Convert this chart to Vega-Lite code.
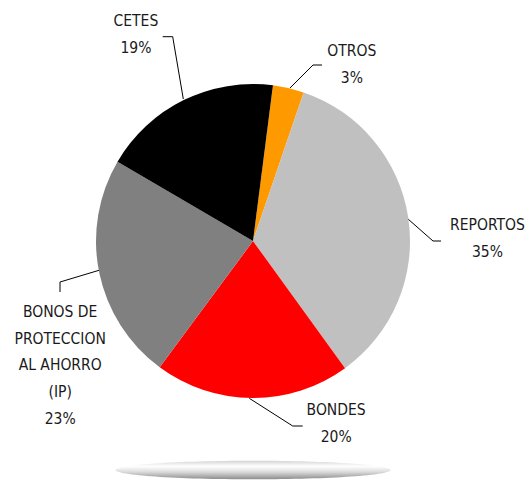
{
  "$schema": "https://vega.github.io/schema/vega-lite/v6.json",
  "width": 506,
  "height": 482,
  "autosize": "none",
  "padding": {"left": 0, "top": 0, "right": 25, "bottom": 0},
  "background": "white",
  "config": {"view": {"stroke": null}},
  "data": {
    "values": [
      {"category": "OTROS", "value": 3.2, "order": 1, "label": "OTROS\n3%"},
      {"category": "REPORTOS", "value": 34.8, "order": 2, "label": "REPORTOS\n35%"},
      {"category": "BONDES", "value": 20.1, "order": 3, "label": "BONDES\n20%"},
      {"category": "BONOS DE PROTECCION AL AHORRO (IP)", "value": 23.3, "order": 4, "label": "BONOS DE\nPROTECCION\nAL AHORRO\n(IP)\n23%"},
      {"category": "CETES", "value": 18.6, "order": 5, "label": "CETES\n19%"}
    ]
  },
  "layer": [
    {
      "data": {"values": [{"k": 1}]},
      "mark": {
        "type": "point",
        "shape": "M -137.5 229 A 137.5 9.3 0 1 0 137.5 229 A 137.5 9.3 0 1 0 -137.5 229 Z",
        "size": 4,
        "filled": true,
        "opacity": 1,
        "strokeWidth": 0,
        "fill": {
          "gradient": "linear",
          "x1": 0, "y1": 0, "x2": 0, "y2": 1,
          "stops": [
            {"offset": 0, "color": "#d4d4d4"},
            {"offset": 0.3, "color": "#ffffff"},
            {"offset": 0.6, "color": "#dcdcdc"},
            {"offset": 1, "color": "#8c8c8c"}
          ]
        }
      },
      "encoding": {}
    },
    {
      "data": {"values": [{"k": 1}]},
      "mark": {
        "type": "point",
        "shape": "M -69.7 -142 L -80.3 -204.3 L -90.3 -204.3 M 37 -153 L 60 -176 L 69 -176 M 155 -22 L 180 0 L 188 0 M -3.7 157.3 L 39.7 185 L 49.7 185 M -153 29 L -193 41 L -193 51",
        "size": 4,
        "filled": false,
        "opacity": 1,
        "stroke": "#000000",
        "strokeWidth": 1
      },
      "encoding": {}
    },
    {
      "encoding": {
        "theta": {"field": "value", "type": "quantitative", "stack": true, "scale": {"range": [0.12741, 6.4106]}},
        "order": {"field": "order", "type": "quantitative"},
        "detail": {"field": "category", "type": "nominal"}
      },
      "layer": [
        {
          "mark": {"type": "arc", "outerRadius": 157, "stroke": null},
          "encoding": {
            "color": {
              "field": "category",
              "type": "nominal",
              "scale": {
                "domain": ["OTROS", "REPORTOS", "BONDES", "BONOS DE PROTECCION AL AHORRO (IP)", "CETES"],
                "range": ["#FF9900", "#C0C0C0", "#FF0000", "#808080", "#000000"]
              },
              "legend": null
            }
          }
        },
        {
          "mark": {"type": "text", "font": "'Liberation Sans Narrow', 'DejaVu Sans Condensed', 'Liberation Sans', sans-serif", "fontSize": 15.5, "color": "#1a1a1a", "align": "center", "baseline": "alphabetic", "lineBreak": "\n", "lineHeight": 27, "radius": 245, "dx": -9, "dy": 5},
          "encoding": {"text": {"condition": {"test": "datum.category === 'CETES'", "field": "label"}, "value": ""}}
        },
        {
          "mark": {"type": "text", "font": "'Liberation Sans Narrow', 'DejaVu Sans Condensed', 'Liberation Sans', sans-serif", "fontSize": 15.5, "color": "#1a1a1a", "align": "center", "baseline": "alphabetic", "lineBreak": "\n", "lineHeight": 27, "radius": 203, "dx": 53, "dy": 13},
          "encoding": {"text": {"condition": {"test": "datum.category === 'OTROS'", "field": "label"}, "value": ""}}
        },
        {
          "mark": {"type": "text", "font": "'Liberation Sans Narrow', 'DejaVu Sans Condensed', 'Liberation Sans', sans-serif", "fontSize": 15.5, "color": "#1a1a1a", "align": "center", "baseline": "alphabetic", "lineBreak": "\n", "lineHeight": 27, "radius": 233, "dx": 4, "dy": 24},
          "encoding": {"text": {"condition": {"test": "datum.category === 'REPORTOS'", "field": "label"}, "value": ""}}
        },
        {
          "mark": {"type": "text", "font": "'Liberation Sans Narrow', 'DejaVu Sans Condensed', 'Liberation Sans', sans-serif", "fontSize": 15.5, "color": "#1a1a1a", "align": "center", "baseline": "alphabetic", "lineBreak": "\n", "lineHeight": 27, "radius": 174, "dx": 84, "dy": 0},
          "encoding": {"text": {"condition": {"test": "datum.category === 'BONDES'", "field": "label"}, "value": ""}}
        },
        {
          "mark": {"type": "text", "font": "'Liberation Sans Narrow', 'DejaVu Sans Condensed', 'Liberation Sans', sans-serif", "fontSize": 15.5, "color": "#1a1a1a", "align": "center", "baseline": "alphabetic", "lineBreak": "\n", "lineHeight": 26.7, "radius": 204, "dx": 7, "dy": 35},
          "encoding": {"text": {"condition": {"test": "datum.category === 'BONOS DE PROTECCION AL AHORRO (IP)'", "field": "label"}, "value": ""}}
        }
      ]
    }
  ]
}
